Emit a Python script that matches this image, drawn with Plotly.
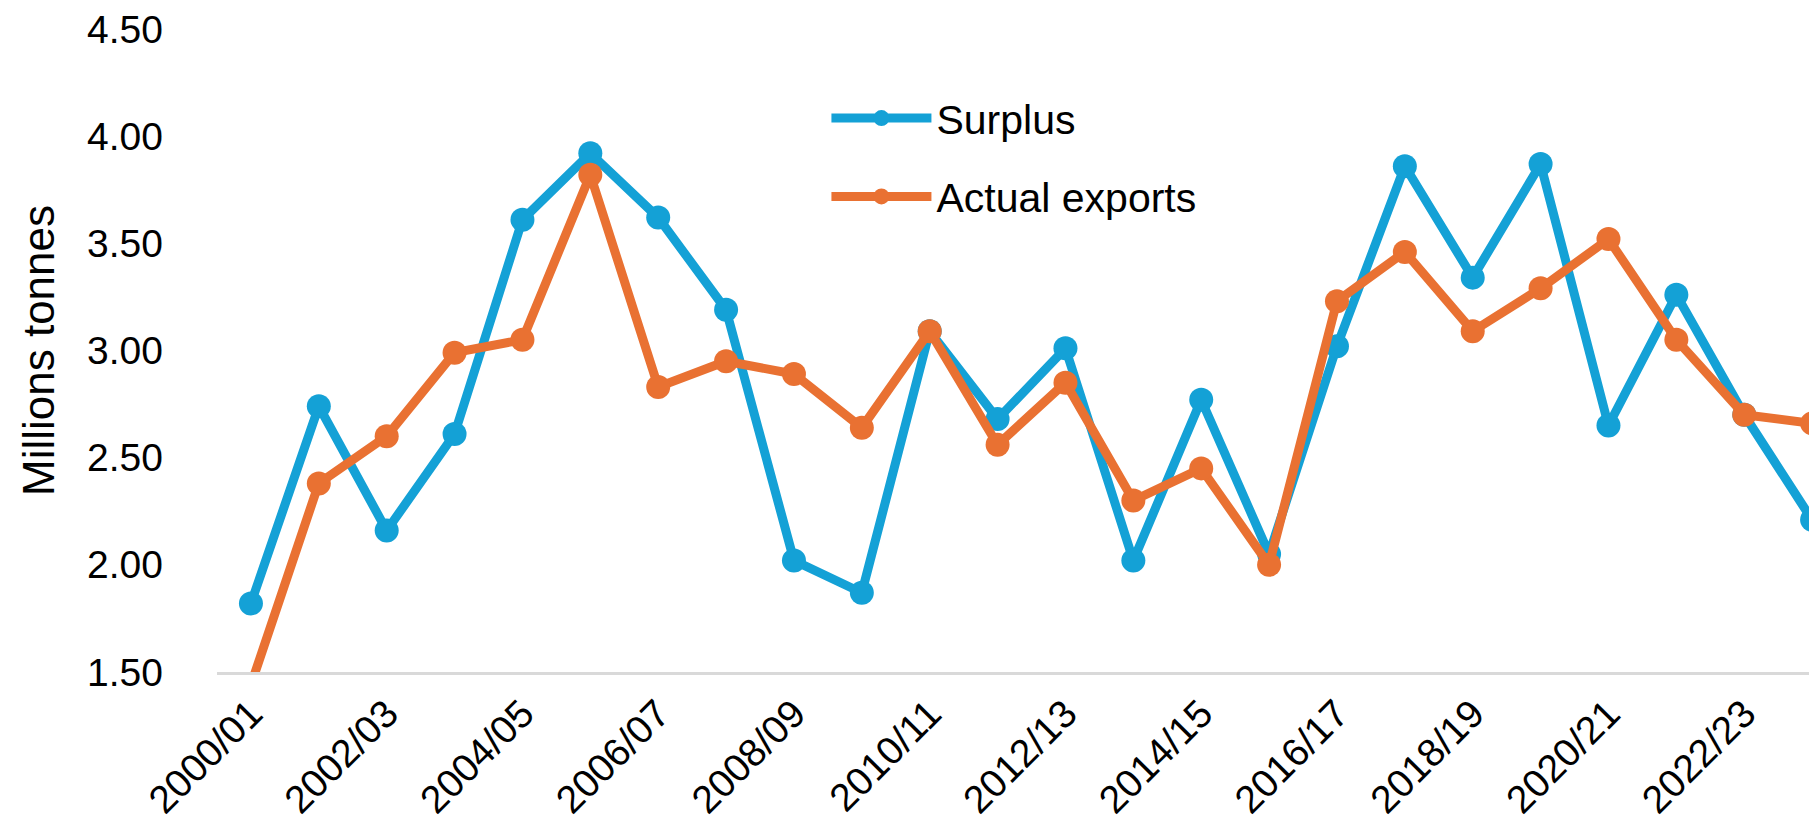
import plotly.graph_objects as go

seasons = ['2000/01', '2001/02', '2002/03', '2003/04', '2004/05', '2005/06',
           '2006/07', '2007/08', '2008/09', '2009/10', '2010/11', '2011/12',
           '2012/13', '2013/14', '2014/15', '2015/16', '2016/17', '2017/18',
           '2018/19', '2019/20', '2020/21', '2021/22', '2022/23', '2023/24']

surplus = [1.82, 2.74, 2.16, 2.61, 3.61, 3.92, 3.62, 3.19, 2.02, 1.87,
           3.09, 2.68, 3.01, 2.02, 2.77, 2.05, 3.02, 3.86, 3.34, 3.87,
           2.65, 3.26, 2.70, 2.21]

actual_exports = [1.44, 2.38, 2.60, 2.99, 3.05, 3.82, 2.83, 2.95, 2.89, 2.64,
                  3.09, 2.56, 2.85, 2.30, 2.45, 2.00, 3.23, 3.46, 3.09, 3.29,
                  3.52, 3.05, 2.70, 2.66]

x_ticks = seasons[::2]
y_ticks = [1.5, 2.0, 2.5, 3.0, 3.5, 4.0, 4.5]

BLUE = '#14A1D6'
ORANGE = '#E97132'
FONT = 'Liberation Sans, Arial, sans-serif'

fig = go.Figure()
fig.add_trace(go.Scatter(
    x=seasons, y=surplus, name='Surplus', mode='lines+markers',
    line=dict(color=BLUE, width=9), marker=dict(color=BLUE, size=24),
    legendgroup='a'
))
fig.add_trace(go.Scatter(
    x=seasons, y=actual_exports, name='Actual exports', mode='lines+markers',
    line=dict(color=ORANGE, width=9), marker=dict(color=ORANGE, size=24),
    legendgroup='b'
))

fig.update_layout(
    width=1817, height=836,
    margin=dict(t=18, b=172, l=209, r=0, pad=0),
    plot_bgcolor='white', paper_bgcolor='white',
    font=dict(family=FONT, size=39, color='black'),
    showlegend=True,
    legend=dict(
        x=0.379, y=0.913, xanchor='left', yanchor='top',
        bgcolor='rgba(0,0,0,0)', itemwidth=100,
        traceorder='grouped', tracegroupgap=22,
        font=dict(size=41, family=FONT, color='black')
    ),
    xaxis=dict(
        type='category', range=[-0.5, 23.19],
        tickmode='array', tickvals=x_ticks, ticktext=x_ticks,
        tickangle=-45, showgrid=False, zeroline=False,
        showline=True, linecolor='#d9d9d9', linewidth=3,
        ticks='', tickfont=dict(size=39)
    ),
    yaxis=dict(
        range=[1.5, 4.5], tickmode='array', tickvals=y_ticks,
        tickformat='.2f', showgrid=False, zeroline=False, showline=False,
        ticks='', ticklabelstandoff=53, ticklabeloverflow='allow',
        tickfont=dict(size=39),
        title=dict(text='Millions tonnes', font=dict(size=44), standoff=18)
    ),
)

fig.write_html('out.html')
